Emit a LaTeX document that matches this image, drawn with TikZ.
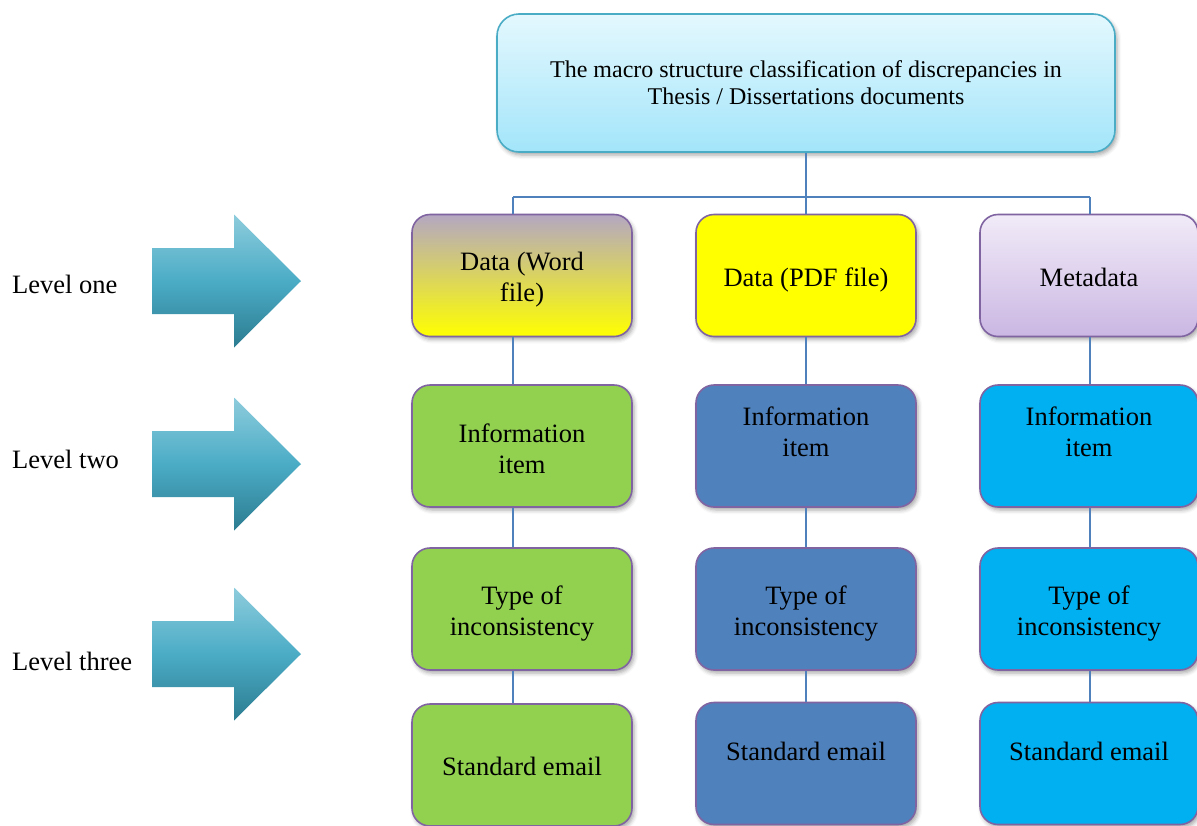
\documentclass[tikz,border=0pt]{standalone}
\usepackage{fontspec}
\setmainfont{Liberation Serif}
\usetikzlibrary{shadows,shadows.blur}

\definecolor{boxedge}{HTML}{8064A2}
\definecolor{topedge}{HTML}{4BACC6}
\definecolor{linkblue}{HTML}{4F81BD}
\definecolor{leafgreen}{HTML}{92D050}
\definecolor{leafblue}{HTML}{4F81BD}
\definecolor{leafcyan}{HTML}{00B0F0}
\definecolor{pureyellow}{HTML}{FFFF00}
\definecolor{mauve}{HTML}{B4A7C2}
\definecolor{lavtop}{HTML}{F1EBF8}
\definecolor{lavbot}{HTML}{CBB7E3}
\definecolor{skytop}{HTML}{E4F8FE}
\definecolor{skybot}{HTML}{A3E5FA}
\definecolor{arrtop}{HTML}{8DCCDC}
\definecolor{arrmid}{HTML}{4BACC6}
\definecolor{arrbot}{HTML}{2C7C90}

\begin{document}
\begin{tikzpicture}[x=1pt,y=-1pt,
  softshadow/.style={blur shadow={shadow xshift=2pt, shadow yshift=-3pt,
      shadow blur radius=4pt, shadow opacity=35}},
  boxtext/.style={font=\fontsize{26.5}{31}\selectfont, align=center},
  box/.style={draw=boxedge, line width=1.6pt, rounded corners=18pt,
      minimum width=220pt, minimum height=122pt, inner sep=4pt, softshadow},
  % box caption, raised (positive) or lowered (negative) from the centre
  caption/.style 2 args={label={[boxtext, yshift=#1]center:#2}},
  rootbox/.style={draw=topedge, line width=1.6pt, rounded corners=22pt,
      minimum width=618pt, minimum height=138pt, align=center,
      font=\fontsize{24}{27}\selectfont, top color=skytop, bottom color=skybot,
      softshadow},
  link/.style={draw=linkblue, line width=1.4pt},
  levellabel/.style={anchor=west, font=\fontsize{26.5}{31}\selectfont, inner sep=0pt},
  bigarrow/.style={top color=arrtop, bottom color=arrbot, middle color=arrmid}
]
\useasboundingbox (0,0) rectangle (1197,825);

% level arrows
\foreach \yc in {281,464,654}{
  \shade[bigarrow] (152,\yc-33) -- (234,\yc-33) -- (234,\yc-66.5) -- (301,\yc)
    -- (234,\yc+66.5) -- (234,\yc+33) -- (152,\yc+33) -- cycle;
}
\node[levellabel] (lv1) at (12,284) {Level one};
\node[levellabel] (lv2) at (12,459) {Level two};
\node[levellabel] (lv3) at (12,661) {Level three};

% root
\node[rootbox] (root) at (806,83) {The macro structure classification of discrepancies in\\Thesis / Dissertations documents};

% column 1
\node[box, top color=mauve, bottom color=pureyellow, caption={-4.5pt}{Data (Word\\file)}] (a1) at (522,275.5) {};
\node[box, fill=leafgreen, caption={-3pt}{Information\\item}] (a2) at (522,446) {};
\node[box, fill=leafgreen, caption={-5pt}{Type of\\inconsistency}] (a3) at (522,609) {};
\node[box, fill=leafgreen, caption={-1pt}{Standard email}] (a4) at (522,765) {};

% column 2
\node[box, fill=pureyellow, caption={-4pt}{Data (PDF file)}] (b1) at (806,275.5) {};
\node[box, fill=leafblue, caption={14pt}{Information\\item}] (b2) at (806,446) {};
\node[box, fill=leafblue, caption={-5pt}{Type of\\inconsistency}] (b3) at (806,609) {};
\node[box, fill=leafblue, caption={12.5pt}{Standard email}] (b4) at (806,763.5) {};

% column 3
\node[box, top color=lavtop, bottom color=lavbot, minimum width=218pt, caption={-2pt}{Metadata}] (c1) at (1089,275.5) {};
\node[box, fill=leafcyan, minimum width=218pt, caption={14pt}{Information\\item}] (c2) at (1089,446) {};
\node[box, fill=leafcyan, minimum width=218pt, caption={-5pt}{Type of\\inconsistency}] (c3) at (1089,609) {};
\node[box, fill=leafcyan, minimum width=218pt, caption={12.5pt}{Standard email}] (c4) at (1089,763.5) {};

% tree connectors
\coordinate (busL) at (513,197);
\coordinate (busR) at (1090,197);
\draw[link] (root.south) -- (root.south |- busL);
\draw[link] (busL) -- (busR);
\draw[link] (busL) -- (busL |- a1.north);
\draw[link] (root.south |- busL) -- (b1.north);
\draw[link] (busR) -- (busR |- c1.north);

\draw[link] (a1.south -| busL) -- (a2.north -| busL);
\draw[link] (a2.south -| busL) -- (a3.north -| busL);
\draw[link] (a3.south -| busL) -- (a4.north -| busL);
\draw[link] (b1.south) -- (b2.north);
\draw[link] (b2.south) -- (b3.north);
\draw[link] (b3.south) -- (b4.north);
\draw[link] (c1.south -| busR) -- (c2.north -| busR);
\draw[link] (c2.south -| busR) -- (c3.north -| busR);
\draw[link] (c3.south -| busR) -- (c4.north -| busR);
\end{tikzpicture}
\end{document}
